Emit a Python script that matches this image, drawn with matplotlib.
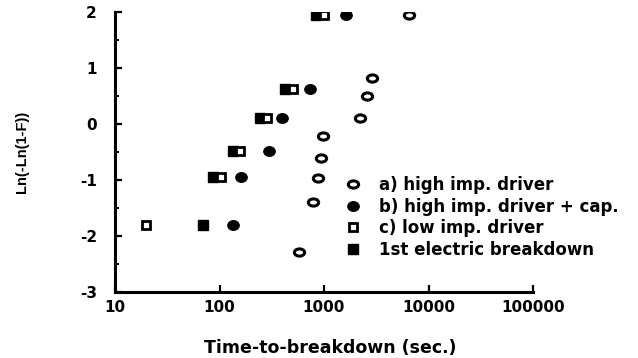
import matplotlib
matplotlib.use("Agg")
import matplotlib.pyplot as plt
from matplotlib.path import Path
from matplotlib.transforms import Affine2D
from matplotlib.ticker import FixedLocator, NullLocator, FixedFormatter

# ---- data ----
t_a = [577, 790, 883, 935, 985, 2208, 2594, 2858, 6550]
y_a = [-2.29, -1.40, -0.96, -0.61, -0.21, 0.11, 0.50, 0.83, 1.95]

t_b = [135, 161, 298, 399, 735, 1615]
y_b = [-1.80, -0.95, -0.48, 0.11, 0.625, 1.95]

t_c = [20, 103, 157, 285, 500, 1000]
y_c = [-1.80, -0.95, -0.48, 0.11, 0.625, 1.95]

t_1st = [69, 87, 135, 244, 419, 838]
y_1st = [-1.80, -0.95, -0.48, 0.11, 0.625, 1.95]

x_ticks = [10, 100, 1000, 10000, 100000]
x_ticklabels = ["10", "100", "1000", "10000", "100000"]
y_ticks = [-3, -2, -1, 0, 1, 2]
y_ticklabels = ["-3", "-2", "-1", "0", "1", "2"]

labels = ["a) high imp. driver", "b) high imp. driver + cap.",
          "c) low imp. driver", "1st electric breakdown"]

# ---- figure ----
W, H = 638, 358
fig = plt.figure(figsize=(W / 100, H / 100), dpi=100)
ax = fig.add_axes([115 / W, 1 - 292 / H, (533 - 115) / W, (292 - 12) / H])

ell_open = Path.unit_circle().transformed(Affine2D().scale(1.0, 0.7))
ell_fill = Path.unit_circle().transformed(Affine2D().scale(1.0, 0.85))

h1 = ax.plot(t_1st, y_1st, ls="none", marker="s", ms=6.8, mfc="black",
             mec="black", mew=1.0, label=labels[3], zorder=3)[0]
hc = ax.plot(t_c, y_c, ls="none", marker="s", ms=6.0, mfc="white",
             mec="black", mew=2.0, label=labels[2], zorder=4)[0]
hb = ax.plot(t_b, y_b, ls="none", marker=ell_fill, ms=8.3, mfc="black",
             mec="black", mew=0.8, label=labels[1], zorder=3)[0]
ha = ax.plot(t_a, y_a, ls="none", marker=ell_open, ms=7.4, mfc="white",
             mec="black", mew=2.2, label=labels[0], zorder=3)[0]

ax.set_xscale("log")
ax.set_xlim(10, 100000)
ax.set_ylim(-3, 2)

ax.xaxis.set_major_locator(FixedLocator(x_ticks))
ax.xaxis.set_major_formatter(FixedFormatter(x_ticklabels))
ax.xaxis.set_minor_locator(NullLocator())
ax.yaxis.set_major_locator(FixedLocator(y_ticks))
ax.yaxis.set_major_formatter(FixedFormatter(y_ticklabels))
ax.yaxis.set_minor_locator(FixedLocator([-2.5, -1.5, -0.5, 0.5, 1.5]))

for s in ("top", "right"):
    ax.spines[s].set_visible(False)
for s in ("left", "bottom"):
    ax.spines[s].set_linewidth(2.2)

ax.tick_params(axis="both", which="major", direction="in", length=5, width=1.6)
ax.tick_params(axis="y", which="minor", direction="in", length=3, width=1.4)
ax.tick_params(axis="y", which="major", pad=13)
ax.tick_params(axis="x", which="major", pad=6)
for lab in ax.get_xticklabels() + ax.get_yticklabels():
    lab.set_fontfamily("DejaVu Sans")
    lab.set_fontweight("bold")
    lab.set_fontsize(11)

ax.set_xlabel("Time-to-breakdown (sec.)", fontsize=12.5, fontweight="bold",
              family="DejaVu Sans")
ax.xaxis.set_label_coords((330 - 115) / 418, -0.168)
ax.set_ylabel("Ln(-Ln(1-F))", fontsize=10.5, fontweight="bold",
              family="Liberation Sans")
ax.yaxis.set_label_coords(-0.205, 0.50)

fs = 12
leg = ax.legend(handles=[ha, hb, hc, h1], loc="upper left",
                bbox_to_anchor=((353 - 0.5 * fs * 100 / 72) / W, 1 - 176 / H),
                bbox_transform=fig.transFigure, frameon=False, numpoints=1,
                handlelength=1.0, handletextpad=1.05, borderpad=0,
                borderaxespad=0, labelspacing=0.22,
                prop={"family": "DejaVu Sans", "weight": "bold", "size": fs})

fig.savefig("out.png", dpi=100)
